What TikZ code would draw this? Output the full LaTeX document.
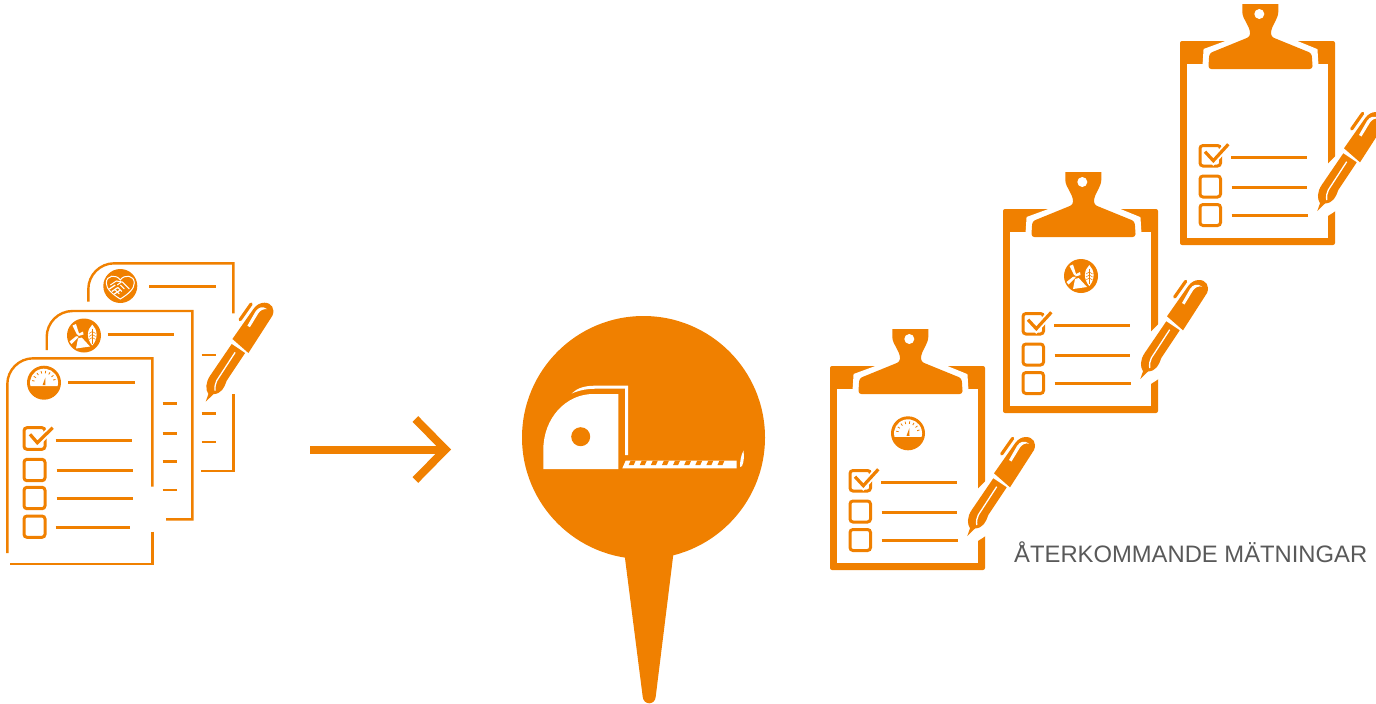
\documentclass[tikz,border=0pt]{standalone}
\usepackage{fontspec}
\setmainfont{Liberation Sans}
\usetikzlibrary{arrows.meta}
\definecolor{pinorange}{RGB}{240,128,0}
\definecolor{labelgray}{RGB}{89,89,89}
\tikzset{
  sheetline/.style={pinorange, line width=2.4pt},
  rowline/.style={pinorange, line width=2.8pt},
  tickbox/.style={pinorange, line width=3pt, rounded corners=3pt},
  tickmark/.style={pinorange, line width=3.2pt},
  iconcircle/.style={circle, fill=pinorange, inner sep=0pt, minimum size=34pt},
}
% gauge badge
\newcommand{\gaugeicon}[2]{%
  \begin{scope}[shift={(#1,#2)}]
    \node[iconcircle] (gaugebadge) at (0,0) {};
    \fill[white] (-13.5,3.5) arc (165.5:374.5:14) -- cycle;
    \foreach \a in {190,212,...,350}
      \draw[pinorange, line width=0.8pt] ({9.5*cos(\a)},{9.5*sin(\a)}) -- ({12*cos(\a)},{12*sin(\a)});
    \fill[pinorange] (-1.5,2.5) -- (1.5,2.5) -- (1.3,-5) -- cycle;
  \end{scope}}
% wind and leaf badge
\newcommand{\windicon}[2]{%
  \begin{scope}[shift={(#1,#2)}]
    \node[iconcircle] (windbadge) at (0,0) {};
    \fill[white] (-8,13) -- (6,11) -- (-2.3,2) -- (-6,3) -- cycle;
    \fill[white] (-6.5,0) -- (-11.5,-10) -- (-8,-11.5) -- (-5,-2) -- cycle;
    \fill[white] (-6,-1.5) -- (-1,-4) -- (-0.5,-1) -- (-5.5,0.5) -- cycle;
    \fill[white] (-7,0) -- (-14.5,6) -- (-12.5,8.5) -- (-5.5,1.5) -- cycle;
    \fill[pinorange] (-7,0) circle (1.2);
    \fill[white] (8.3,-11) .. controls (3,-6) and (2,3) .. (8.3,10) .. controls (14.5,3) and (13.5,-6) .. (8.3,-11) -- cycle;
    \draw[pinorange, line width=0.7pt] (8.3,-7) -- (8.3,8);
    \foreach \v in {-4,-1,2}
      \draw[pinorange, line width=0.5pt] (5,\v+2) -- (8.3,\v) -- (11.6,\v+2);
  \end{scope}}
% handshake badge
\newcommand{\shakeicon}[2]{%
  \begin{scope}[shift={(#1,#2)}]
    \node[iconcircle] (shakebadge) at (0,0) {};
    \draw[white, line width=1pt] (0,13) .. controls (-8,8) and (-14,3) .. (-14,-3) .. controls (-14,-11) and (-4,-12) .. (0,-6) .. controls (4,-12) and (14,-11) .. (14,-3) .. controls (14,3) and (8,8) .. (0,13) -- cycle;
    \draw[white, line width=1pt] (-10,-1) -- (-4,-5) -- (2,-4) -- (9,3);
    \draw[white, line width=1pt] (-3,-1) -- (1,-4);
    \foreach \v in {0,2.5,5}
      \draw[white, line width=1.2pt] (-11+\v,3+\v) -- (-5+\v,-1+\v);
    \foreach \v in {0,2.5,5}
      \draw[white, line width=1pt] (-1+\v,8-\v) -- (-5+\v,4-\v);
  \end{scope}}
% pen, its origin is the corner of a clipboard
\newcommand{\penshape}{%
  \fill[pinorange] (164,107.3) -- (185,77.3) .. controls (188,73) and (192,71) .. (196,71) .. controls (203,71) and (207,77) .. (204,84) -- (180,121.3) -- cycle;
  \fill[pinorange] (163.3,112.3) -- (176.7,121.3) -- (158.3,149) .. controls (156,156) and (153,162) .. (145,162.5) -- (137.3,170) -- (140,162.3) .. controls (137,158) and (137,151) .. (141.7,144) -- cycle;
  \draw[white, line width=1.3pt] (166.7,120.7) -- (148.3,149) .. controls (146.8,152) and (146.3,155) .. (146.7,159);
  \draw[pinorange, line width=3.2pt, line cap=round] (182.7,72.3) -- (171.7,88);
  \fill[white] (199,77.5) .. controls (194,74) and (190,75.5) .. (187,80) -- (179,94) -- (181.5,95.5) -- (190,81.5) .. controls (192,78.5) and (195,77) .. (199,77.5) -- cycle;
}
% clipboard with three rows and pen
\newcommand{\clipboardshape}{%
  \fill[pinorange, rounded corners=2pt] (0,0) rectangle (155,204);
  \fill[white] (6.7,23.3) rectangle (148.3,197.3);
  \path[draw=white, line width=12pt, fill=white] (98.3,-37) -- (98.3,-26) -- (91,-11) -- (91,-4.3) -- (131.7,12.3) -- (132.7,28) -- (28.3,28) -- (29.3,12.3) -- (70,-2.7) -- (70,-11) -- (62.3,-26) -- (62.3,-37) -- cycle;
  \fill[pinorange] (98.3,-37) [rounded corners=3pt] -- (98.3,-26) -- (91,-11) -- (91,-4.3) -- (131.7,12.3) -- (132.7,28) -- (28.3,28) -- (29.3,12.3) -- (70,-4.3) -- (70,-11) -- (62.3,-26) [sharp corners] -- (62.3,-37) -- cycle;
  \fill[white] (79.3,-27) circle (5);
  % rows
  \draw[tickbox] (20,104.5) rectangle (40.5,125);
  \draw[tickbox] (20,135) rectangle (40.5,156);
  \draw[tickbox] (20,163.5) rectangle (40.5,184.5);
  \draw[white, line width=7pt] (25,110.7) -- (33.3,119.7) -- (48.3,103.3);
  \draw[tickmark] (25,110.7) -- (33.3,119.7) -- (48.3,103.3);
  \draw[rowline] (51,116.3) -- (127.3,116.3);
  \draw[rowline] (51.7,146.7) -- (127.3,146.7);
  \draw[rowline] (51.7,174.7) -- (128,174.7);
  % gap for the pen
  \fill[white] (146.7,124) -- (157,113.5) -- (157,169) -- (146.7,175.7) -- cycle;
  \penshape
}

\begin{document}
\begin{tikzpicture}[x=1pt, y=-1pt, >=Stealth]
    \useasboundingbox (0,0) rectangle (1376,704);
    % Stack of forms
    \draw[sheetline] (88.3,301.7) [rounded corners=26pt] -- (88.3,263.3) [sharp corners] -- (233.3,263.3) -- (233.3,313.3);
    \draw[sheetline] (233.3,394.3) -- (233.3,471) -- (201,471);
    \draw[sheetline] (46.7,350) [rounded corners=26pt] -- (46.7,311) [sharp corners] -- (192.3,311) -- (192.3,519.3) -- (166,519.3);
    \draw[sheetline] (7.3,553) [rounded corners=26pt] -- (7.3,358.3) [sharp corners] -- (152.3,358.3) -- (152.3,486.7);
    \draw[sheetline] (152.3,531.7) -- (152.3,564) -- (10,564);
    \foreach \y in {403.3,433.7,461.7,490}
      \draw[rowline] (162.7,\y) -- (177.3,\y);
    \foreach \y in {355,413.7,442}
      \draw[rowline] (201.7,\y) -- (216,\y);
    \gaugeicon{44}{382.7}
    \windicon{84}{335.5}
    \shakeicon{120.3}{286}
    \draw[rowline] (68.3,382.7) -- (135,382.7);
    \draw[rowline] (107.7,334.7) -- (174.3,334.7);
    \draw[rowline] (149,286.7) -- (215.7,286.7);
    \draw[tickbox] (24,427.7) rectangle (45,449.3);
    \draw[tickbox] (24,459.3) rectangle (45,480.7);
    \draw[tickbox] (24,487.3) rectangle (45,508.7);
    \draw[tickbox] (24,516) rectangle (45,537.3);
    \draw[white, line width=7pt] (30,434.3) -- (37.3,442.7) -- (52.7,427.7);
    \draw[tickmark] (30,434.3) -- (37.3,442.7) -- (52.7,427.7);
    \draw[rowline] (55.7,440.7) -- (132,440.7);
    \draw[rowline] (56.7,470.7) -- (132.7,470.7);
    \draw[rowline] (56.7,498.7) -- (132.7,498.7);
    \draw[rowline] (55.7,527.3) -- (130,527.3);
    \begin{scope}[shift={(68.4,231.7)}]
      \penshape
    \end{scope}
    % Arrow
    \coordinate (arrowstart) at (310,449.5);
    \coordinate (arrowend) at (451,449.5);
    \draw[pinorange, line width=8pt, -{Straight Barb[length=30pt, width=61pt, line width=8pt]}] (arrowstart) -- (arrowend);
    % Pin with tape measure
    \fill[pinorange] (623.3,545) -- (674.5,545) -- (655.7,696.7) .. controls (655,705.5) and (643.5,705.5) .. (642.7,696.7) -- cycle;
    \node[circle, fill=pinorange, inner sep=0pt, minimum size=243pt] (pinhead) at (643.5,437.5) {};
    \fill[white] (543.3,469) -- (543.3,450) .. controls (543.3,418) and (566,394) .. (593.3,394) -- (618.3,394) -- (618.3,469) -- cycle;
    \fill[pinorange] (580.7,436.7) circle (9.5);
    \fill[white] (571.7,393.5) .. controls (577,388) and (585,385.7) .. (595,385.7) -- (628,385.7) -- (628,455) -- (625,455) -- (625,388.7) -- (597,388.7) .. controls (587,388.7) and (580,390) .. (571.7,393.5) -- cycle;
    \fill[white] (625.7,460.7) -- (736.7,460.7) -- (736.7,468.3) -- (622.3,468.3) -- cycle;
    \foreach \x in {630.7,641.8,...,730}
      \fill[pinorange] (\x,460.5) -- (\x+5,460.5) -- (\x+3,465) -- (\x-2,465) -- cycle;
    \fill[white] (743.5,450.7) .. controls (741,455) and (740,461) .. (740,467) -- (742,466) .. controls (744,462) and (744.2,456) .. (743.5,450.7) -- cycle;
    % Clipboards
    \begin{scope}[shift={(830,366)}]
      \clipboardshape
      \gaugeicon{78}{67.3}
    \end{scope}
    \begin{scope}[shift={(1003,209)}]
      \clipboardshape
      \windicon{78}{67}
    \end{scope}
    \begin{scope}[shift={(1180,41)}]
      \clipboardshape
    \end{scope}
    \node[text=labelgray, font=\fontsize{23.8}{28}\selectfont, inner sep=0pt, anchor=base west] (repeatlabel) at (1014,562) {ÅTERKOMMANDE MÄTNINGAR};
  \end{tikzpicture}
\end{document}
